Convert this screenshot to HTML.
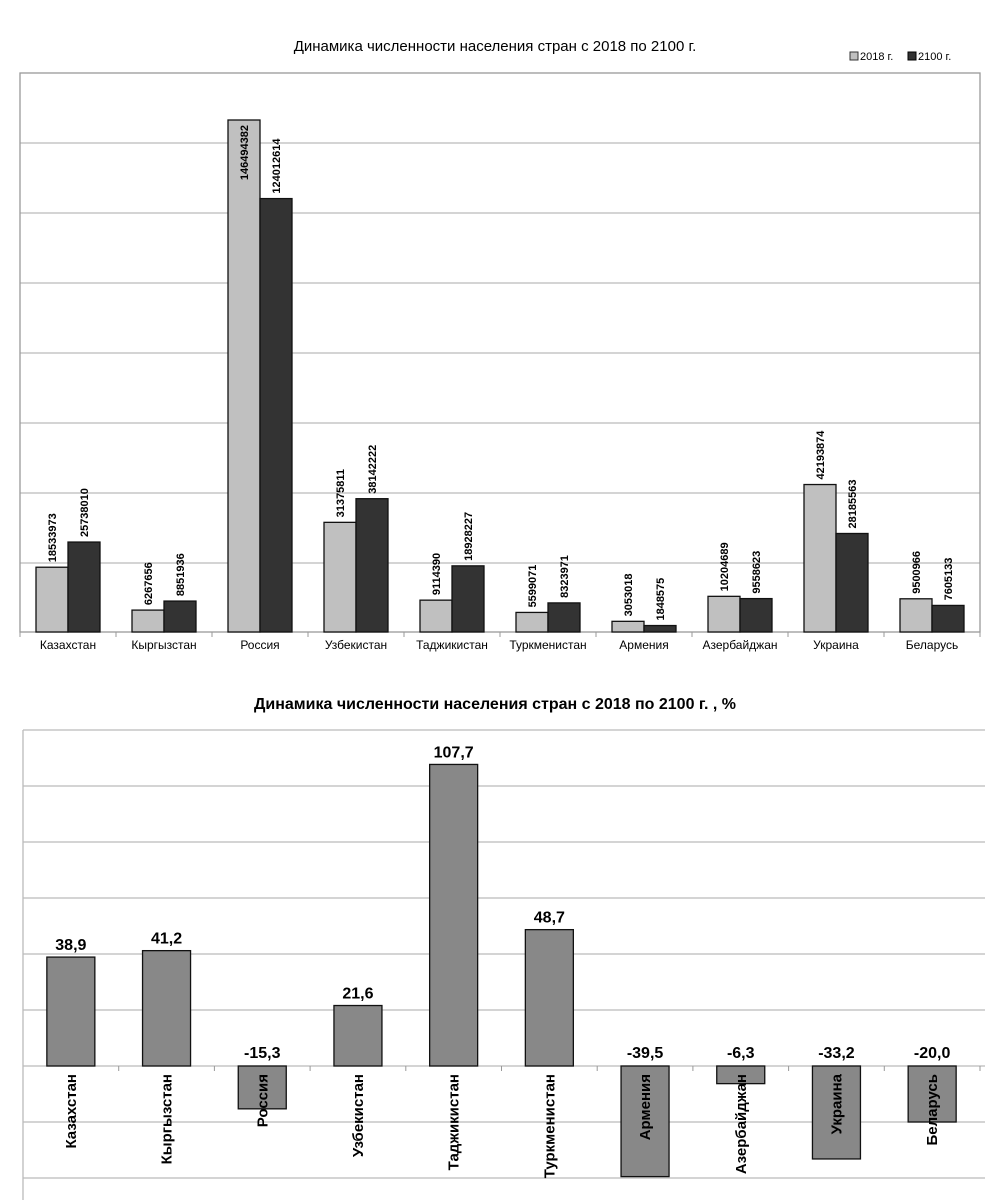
<!DOCTYPE html><html><head><meta charset="utf-8"><style>body{margin:0;background:#fff}svg{display:block;font-family:"Liberation Sans",sans-serif}</style></head><body>
<svg width="1000" height="1200" xmlns="http://www.w3.org/2000/svg">
<text x="495" y="51" font-size="15" text-anchor="middle">Динамика численности населения стран с 2018 по 2100 г.</text>
<rect x="850" y="52" width="8" height="8" fill="#c0c0c0" stroke="#333"/><text x="860" y="60" font-size="11">2018 г.</text>
<rect x="908" y="52" width="8" height="8" fill="#333" stroke="#000"/><text x="918" y="60" font-size="11">2100 г.</text>
<g stroke="#bbb" stroke-width="1.3">
<line x1="20" y1="143" x2="980" y2="143"/><line x1="20" y1="213" x2="980" y2="213"/><line x1="20" y1="283" x2="980" y2="283"/><line x1="20" y1="353" x2="980" y2="353"/><line x1="20" y1="423" x2="980" y2="423"/><line x1="20" y1="493" x2="980" y2="493"/><line x1="20" y1="563" x2="980" y2="563"/>
</g>
<rect x="20" y="73" width="960" height="559" fill="none" stroke="#999" stroke-width="1.3"/>
<g stroke="#999"><line x1="20" y1="632" x2="20" y2="637"/><line x1="116" y1="632" x2="116" y2="637"/><line x1="212" y1="632" x2="212" y2="637"/><line x1="308" y1="632" x2="308" y2="637"/><line x1="404" y1="632" x2="404" y2="637"/><line x1="500" y1="632" x2="500" y2="637"/><line x1="596" y1="632" x2="596" y2="637"/><line x1="692" y1="632" x2="692" y2="637"/><line x1="788" y1="632" x2="788" y2="637"/><line x1="884" y1="632" x2="884" y2="637"/><line x1="980" y1="632" x2="980" y2="637"/></g>
<g id="top"></g>
<text x="495" y="709" font-size="16" font-weight="bold" text-anchor="middle">Динамика численности населения стран с 2018 по 2100 г. , %</text>
<g stroke="#bbb" stroke-width="1.3">
<line x1="23" y1="730" x2="985" y2="730"/><line x1="23" y1="786" x2="985" y2="786"/><line x1="23" y1="842" x2="985" y2="842"/><line x1="23" y1="898" x2="985" y2="898"/><line x1="23" y1="954" x2="985" y2="954"/><line x1="23" y1="1010" x2="985" y2="1010"/><line x1="23" y1="1066" x2="985" y2="1066"/><line x1="23" y1="1122" x2="985" y2="1122"/><line x1="23" y1="1178" x2="985" y2="1178"/>
<line x1="23" y1="730" x2="23" y2="1200"/>
</g>
<g id="bot"></g>
<script>
var ns="http://www.w3.org/2000/svg";
function el(p,t,a,txt){var e=document.createElementNS(ns,t);for(var k in a)e.setAttribute(k,a[k]);if(txt)e.textContent=txt;p.appendChild(e);return e;}
var names=["Казахстан","Кыргызстан","Россия","Узбекистан","Таджикистан","Туркменистан","Армения","Азербайджан","Украина","Беларусь"];
var a=[18533973,6267656,146494382,31375811,9114390,5599071,3053018,10204689,42193874,9500966];
var b=[25738010,8851936,124012614,38142222,18928227,8323971,1848575,9558623,28185563,7605133];
var pc=["38,9","41,2","-15,3","21,6","107,7","48,7","-39,5","-6,3","-33,2","-20,0"];
var g=document.getElementById("top"),h=document.getElementById("bot");
for(var i=0;i<10;i++){
 var L=20+96*i;
 [[a[i],L+16,"#c0c0c0"],[b[i],L+48,"#333"]].forEach(function(s){
  var ht=s[0]/1e6*3.495,y=632-ht;
  el(g,"rect",{x:s[1],y:y,width:32,height:ht,fill:s[2],stroke:"#111","stroke-width":1.3});
  var cx=s[1]+16+4;
  if(y<140){el(g,"text",{x:cx,y:y+5,"font-size":11,"font-weight":"bold","text-anchor":"end",transform:"rotate(-90 "+cx+" "+(y+5)+")"},String(s[0]));}
  else el(g,"text",{x:cx,y:y-5,"font-size":11,"font-weight":"bold",transform:"rotate(-90 "+cx+" "+(y-5)+")"},String(s[0]));
 });
 el(g,"text",{x:L+48,y:649,"font-size":12,"text-anchor":"middle"},names[i]);
 var c=23+95.7*(i+0.5),v=parseFloat(pc[i].replace(",",".")),hh=Math.abs(v)*2.8;
 var yy=v>0?1066-hh:1066;
 el(h,"rect",{x:c-24,y:yy,width:48,height:hh,fill:"#888",stroke:"#111","stroke-width":1.3});
 el(h,"text",{x:c,y:v>0?yy-7:1058,"font-size":16,"font-weight":"bold","text-anchor":"middle"},pc[i]);
 el(h,"line",{x1:23+95.7*(i+1),y1:1066,x2:23+95.7*(i+1),y2:1071,stroke:"#999"});
 el(h,"text",{x:c+5,y:1074,"font-size":15,"font-weight":"bold","text-anchor":"end",transform:"rotate(-90 "+(c+5)+" 1074)"},names[i]);
}
</script>
</svg></body></html>
